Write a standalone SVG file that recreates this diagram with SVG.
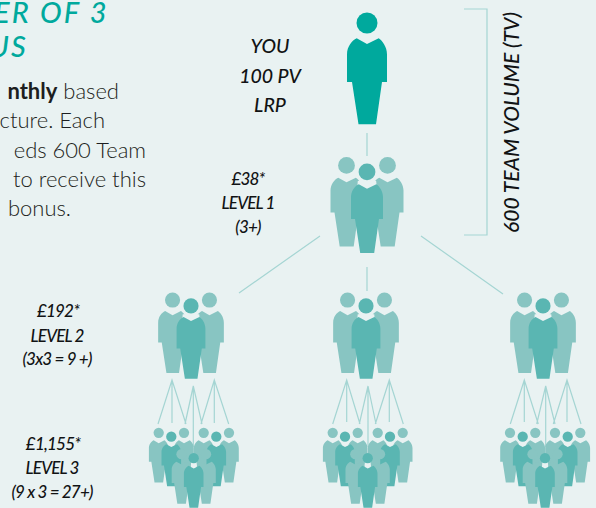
<svg xmlns="http://www.w3.org/2000/svg" width="596" height="508" viewBox="0 0 596 508">
<style>
.bg{fill:#e9f2f2}
.head{font-family:Lato,"Liberation Sans",sans-serif;font-style:italic;font-size:29px;fill:#00a99d;letter-spacing:2.2px;font-weight:500}
.body{font-family:Lato,"Liberation Sans",sans-serif;font-size:22px;fill:#1c1e20;text-anchor:end;font-weight:300}
.lab{font-family:Lato,"Liberation Sans",sans-serif;font-style:italic;font-weight:500;fill:#111314;text-anchor:middle}
.l1{font-size:19.5px}
.l2{font-size:17px;letter-spacing:-.8px}
.tv{font-family:Lato,"Liberation Sans",sans-serif;font-style:italic;font-weight:500;font-size:21px;fill:#111314}
.conn{stroke:#a5d5d3;stroke-width:1.2;fill:none}
.back{fill:#88c5c2}
.front{fill:#5ab6b2}
.top{fill:#00a99d}
</style>
<defs>
<g id="p"><circle cx="0" cy="10.5" r="10.5"/><path d="M0,31.5L-10.3,25.8C-15,28-20,34-20,42L-20,69.5L-15,69.5L-8.5,111.8L9,111.8L15,69.5L20,69.5L20,42C20,34 15,28 11.7,25.8Z"/></g>
<g id="halo" class="bg"><circle cx="0" cy="10.5" r="13.5"/><path d="M-11.5,22L-12,28L0,35L12,28L11.5,22Z"/></g>
<g id="halo3" class="bg"><path d="M-5,20L-5,28L0,31L5,28L5,20Z"/></g>
<g id="trio">
<use href="#p" class="back" transform="translate(-20.5,0) scale(.8)"/>
<use href="#p" class="back" transform="translate(20.5,0) scale(.8)"/>
<use href="#halo" transform="translate(0,6.5) scale(.8)"/>
<use href="#p" class="front" transform="translate(0,6.5) scale(.8)"/>
</g>
</defs>
<rect class="bg" width="596" height="508"/>
<g id="intro">
<text class="head" x="-6" y="23">ER OF 3</text>
<text class="head" x="-11" y="56.5">US</text>
<text class="body" x="119" y="99"><tspan font-weight="700">nthly</tspan> based</text>
<text class="body" x="105" y="128">cture. Each</text>
<text class="body" x="146" y="158">eds 600 Team</text>
<text class="body" x="146" y="187">to receive this</text>
<text class="body" x="71" y="216">bonus.</text>
</g>
<g id="connectors" class="conn">
<path d="M367,133V156M320,236L239,293M367,267V291M421,236L503,294M464,9H487V235H464"/>
<path d="M158,424L172,380L186,424M172,380V423M185,424L193.3,386L202,424M193.3,386V447M201,424L214.3,380L228.7,424M214.3,380V423"/>
<path d="M332.7,424L346.7,380L360,424M346.7,380V422M359.3,424L368,386L376,424M368,386V447M375.3,424L389.3,380L403.3,424M389.3,380V422"/>
<path d="M510.3,424L524.3,380L538.3,424M524.3,380V422M536.7,424L545.7,386L555,424M545.7,386V447M553.3,424L567,380L581,424M567,380V422"/>
</g>
<g id="you"><use href="#p" class="top" transform="translate(367,12.5)"/>
<text class="lab l1" x="270" y="53">YOU</text><text class="lab l1" x="270" y="83">100 PV</text><text class="lab l1" x="270" y="112">LRP</text></g>
<g id="level1"><use href="#trio" transform="translate(367,157)"/>
<text class="lab l2" x="248" y="185">£38*</text><text class="lab l2" x="248" y="209">LEVEL 1</text><text class="lab l2" x="248" y="233">(3+)</text></g>
<g id="level2">
<g transform="translate(191,292.5) scale(.9)"><use href="#trio"/></g>
<g transform="translate(366,292.5) scale(.9)"><use href="#trio"/></g>
<g transform="translate(543,292.5) scale(.9)"><use href="#trio"/></g>
<text class="lab l2" x="58" y="317">£192*</text><text class="lab l2" x="57" y="342">LEVEL 2</text><text class="lab l2" x="57" y="365">(3x3 = 9 +)</text>
</g>
<g id="level3">
<g id="l3a">
<use href="#p" class="back" transform="translate(158.7,427.7) scale(.49)"/><use href="#p" class="back" transform="translate(184,427.7) scale(.49)"/><use href="#p" class="front" transform="translate(171.3,431.5) scale(.49)"/>
<use href="#p" class="back" transform="translate(203.7,427.7) scale(.49)"/><use href="#p" class="back" transform="translate(229,427.7) scale(.49)"/><use href="#p" class="front" transform="translate(216.3,431.5) scale(.49)"/>
<use href="#p" class="back" transform="translate(181.5,449) scale(.49)"/><use href="#p" class="back" transform="translate(206,449) scale(.49)"/><use href="#halo3" transform="translate(193.7,453) scale(.49)"/><use href="#p" class="front" transform="translate(193.7,453) scale(.49)"/>
</g>
<g id="l3b">
<use href="#p" class="back" transform="translate(332.7,427.7) scale(.49)"/><use href="#p" class="back" transform="translate(357.7,427.7) scale(.49)"/><use href="#p" class="front" transform="translate(345,431.5) scale(.49)"/>
<use href="#p" class="back" transform="translate(377.7,427.7) scale(.49)"/><use href="#p" class="back" transform="translate(402.7,427.7) scale(.49)"/><use href="#p" class="front" transform="translate(390,431.5) scale(.49)"/>
<use href="#p" class="back" transform="translate(355.3,449) scale(.49)"/><use href="#p" class="back" transform="translate(380,449) scale(.49)"/><use href="#halo3" transform="translate(367.7,453) scale(.49)"/><use href="#p" class="front" transform="translate(367.7,453) scale(.49)"/>
</g>
<g id="l3c">
<use href="#p" class="back" transform="translate(510,427.7) scale(.49)"/><use href="#p" class="back" transform="translate(535.3,427.7) scale(.49)"/><use href="#p" class="front" transform="translate(522.7,431.5) scale(.49)"/>
<use href="#p" class="back" transform="translate(555,427.7) scale(.49)"/><use href="#p" class="back" transform="translate(580.3,427.7) scale(.49)"/><use href="#p" class="front" transform="translate(567.7,431.5) scale(.49)"/>
<use href="#p" class="back" transform="translate(532.5,449) scale(.49)"/><use href="#p" class="back" transform="translate(557.5,449) scale(.49)"/><use href="#halo3" transform="translate(545,453) scale(.49)"/><use href="#p" class="front" transform="translate(545,453) scale(.49)"/>
</g>
<text class="lab l2" x="53" y="450">£1,155*</text><text class="lab l2" x="52" y="474">LEVEL 3</text><text class="lab l2" x="52" y="498">(9 x 3 = 27+)</text>
</g>
<g id="team-volume"><text class="tv" transform="translate(519,233) rotate(-90)">600 TEAM VOLUME (TV)</text></g>
</svg>
